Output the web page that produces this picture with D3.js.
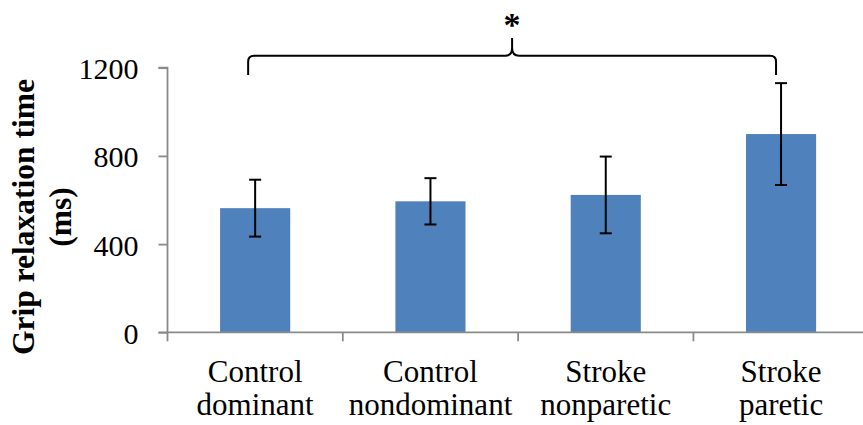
<!DOCTYPE html>
<html>
<head>
<meta charset="utf-8">
<script src="https://cdn.jsdelivr.net/npm/d3@7/dist/d3.min.js"></script>
<style>
  html, body { margin: 0; padding: 0; background: #fff; }
  svg { display: block; }
</style>
</head>
<body>
<svg id="chart" width="863" height="425" font-family="'Liberation Serif', 'Times New Roman', serif"></svg>
<script>
// Group labels (two lines each), mean grip relaxation time and SD (ms)
const categories = [
  ["Control", "dominant"],
  ["Control", "nondominant"],
  ["Stroke", "nonparetic"],
  ["Stroke", "paretic"]
];
const means = [563, 594, 623, 899];
const errors = [129, 105, 174, 231];
const yTicks = [0, 400, 800, 1200];
const yTitle = ["Grip relaxation time", "(ms)"];
// Significance bracket between first and last groups (ms levels)
const bracketLevels = { leg: 1167, bar: 1254, tip: 1335 };
const sigLabel = "*";

const FONT = "'Liberation Serif', 'Times New Roman', serif";
const svg = d3.select("#chart");
const plotLeft = 167.5, plotRight = 868.7;
const ids = categories.map((c, i) => i);

const x = d3.scaleBand()
  .domain(ids)
  .range([plotLeft, plotRight])
  .paddingInner(0.6)
  .paddingOuter(0.3);

const y = d3.scaleLinear()
  .domain([0, 1200])
  .range([332.3, 67.7]);

const axisColor = "#8a8a8a";

// Bars
svg.append("g").selectAll("rect")
  .data(means)
  .join("rect")
  .attr("x", (d, i) => x(i))
  .attr("y", d => y(d))
  .attr("width", x.bandwidth())
  .attr("height", d => y(0) - y(d))
  .attr("fill", "#4f81bd");

// Error bars
const eb = svg.append("g").attr("stroke", "#000").attr("stroke-width", 2).attr("fill", "none");
means.forEach((m, i) => {
  const cx = x(i) + x.bandwidth() / 2;
  const top = y(m + errors[i]), bot = y(m - errors[i]);
  eb.append("line").attr("x1", cx).attr("x2", cx).attr("y1", top).attr("y2", bot);
  eb.append("line").attr("x1", cx - 6).attr("x2", cx + 6).attr("y1", top).attr("y2", top);
  eb.append("line").attr("x1", cx - 6).attr("x2", cx + 6).attr("y1", bot).attr("y2", bot);
});

// Y axis
const yAxis = d3.axisLeft(y).tickValues(yTicks).tickSize(9).tickPadding(20).tickFormat(d3.format("d"));
const gy = svg.append("g").attr("transform", `translate(${plotLeft},0)`).call(yAxis);
gy.attr("font-family", FONT);
gy.select(".domain").attr("stroke", axisColor).attr("stroke-width", 1.8).attr("d", `M-9,${y(1200)}H0V${y(0)}H-9`);
gy.selectAll(".tick line").attr("stroke", axisColor).attr("stroke-width", 1.8);
gy.selectAll(".tick text")
  .attr("font-family", FONT)
  .attr("font-size", 30)
  .attr("fill", "#000")
  .attr("dy", null)
  .attr("y", 11);

// X axis (tick marks at group boundaries)
svg.append("line")
  .attr("x1", plotLeft).attr("x2", plotRight)
  .attr("y1", y(0)).attr("y2", y(0))
  .attr("stroke", axisColor).attr("stroke-width", 1.8);
const step = x.step();
const bounds = d3.range(categories.length + 1).map(i => plotLeft + i * step);
svg.append("g").selectAll("line")
  .data(bounds)
  .join("line")
  .attr("x1", d => d).attr("x2", d => d)
  .attr("y1", y(0)).attr("y2", y(0) + 9)
  .attr("stroke", axisColor).attr("stroke-width", 1.8);

// Category labels
const lab = svg.append("g").attr("font-family", FONT).attr("font-size", 31).attr("text-anchor", "middle").attr("fill", "#000");
categories.forEach((lines, i) => {
  const cx = x(i) + x.bandwidth() / 2;
  const t = lab.append("text").attr("x", cx).attr("y", 381.5);
  lines.forEach((s, k) => {
    t.append("tspan").attr("x", cx).attr("dy", k === 0 ? 0 : 33.5).text(s);
  });
});

// Y axis title
const tt = svg.append("text")
  .attr("transform", "translate(34,217) rotate(-90)")
  .attr("text-anchor", "middle")
  .attr("font-family", FONT)
  .attr("font-weight", "bold")
  .attr("font-size", 31.5)
  .attr("fill", "#000");
tt.append("tspan").attr("x", 0).attr("y", 0).text(yTitle[0]);
tt.append("tspan").attr("x", 0).attr("y", 37).text(yTitle[1]);

// Significance bracket
const xl = x(0) + x.bandwidth() / 2 - 7;
const xr = x(3) + x.bandwidth() / 2 - 5;
const xm = (xl + xr) / 2;
const yl = y(bracketLevels.leg), yb = y(bracketLevels.bar), yt = y(bracketLevels.tip);
const r = 6;
const p = d3.path();
p.moveTo(xl, yl);
p.lineTo(xl, yb + r);
p.quadraticCurveTo(xl, yb, xl + r, yb);
p.lineTo(xm - 7, yb);
p.quadraticCurveTo(xm, yb, xm, yb - 8);
p.lineTo(xm, yt);
p.moveTo(xm, yb - 8);
p.quadraticCurveTo(xm, yb, xm + 7, yb);
p.lineTo(xr - r, yb);
p.quadraticCurveTo(xr, yb, xr, yb + r);
p.lineTo(xr, yl);
svg.append("path")
  .attr("d", p.toString())
  .attr("fill", "none")
  .attr("stroke", "#000")
  .attr("stroke-width", 2);

svg.append("text")
  .attr("x", xm)
  .attr("y", 36)
  .attr("text-anchor", "middle")
  .attr("font-family", FONT)
  .attr("font-weight", "bold")
  .attr("font-size", 34)
  .attr("fill", "#000")
  .text(sigLabel);
</script>
</body>
</html>
